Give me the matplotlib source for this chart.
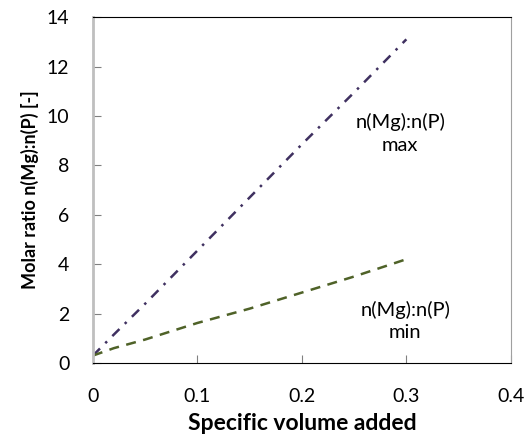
import matplotlib.pyplot as plt

plt.rcParams['font.family'] = ['Lato', 'DejaVu Sans']

# data
volume = [0.0, 0.02, 0.05, 0.1, 0.15, 0.2, 0.25, 0.3]
ratio_max = [0.3, 1.15, 2.4, 4.55, 6.7, 8.85, 10.95, 13.1]
ratio_min = [0.3, 0.6, 0.95, 1.62, 2.2, 2.85, 3.5, 4.2]

fig = plt.figure(figsize=(5.31, 4.34), dpi=100)
ax = fig.add_axes([0.175, 0.1636, 0.787, 0.797])

ax.plot(volume, ratio_max, color='#3f3060', lw=1.8, dashes=[4, 3, 1, 3])
ax.plot(volume, ratio_min, color='#4f6228', lw=1.8, dashes=[4, 3])

ax.text(0.294, 9.3, 'n(Mg):n(P)\nmax', ha='center', va='center',
        multialignment='center', fontsize=14.5, linespacing=1.4)
ax.text(0.299, 1.7, 'n(Mg):n(P)\nmin', ha='center', va='center',
        multialignment='center', fontsize=14.5, linespacing=1.4)

ax.set_xlim(0, 0.4)
ax.set_ylim(0, 14)
ax.set_xticks([0, 0.1, 0.2, 0.3, 0.4])
ax.set_xticklabels(['0', '0.1', '0.2', '0.3', '0.4'])
ax.set_yticks(range(0, 15, 2))
ax.tick_params(direction='in', length=6, labelsize=14, color='#808080')
ax.tick_params(axis='x', pad=18)
ax.tick_params(axis='y', pad=17)

ax.spines['left'].set_color('#bfbfbf')
ax.spines['left'].set_linewidth(2)
ax.spines['right'].set_color('#a0a0a0')
ax.spines['top'].set_color('black')
ax.spines['bottom'].set_color('black')

ax.set_xlabel('Specific volume added', fontsize=16.5, fontweight='bold')
ax.set_ylabel('Molar ratio n(Mg):n(P) [-]', fontsize=13, fontweight='bold',
              family=['Liberation Sans Narrow', 'Lato'])
ax.xaxis.set_label_coords(0.5, -0.145)
ax.yaxis.set_label_coords(-0.13, 0.50)

fig.savefig('out.png', dpi=100)
